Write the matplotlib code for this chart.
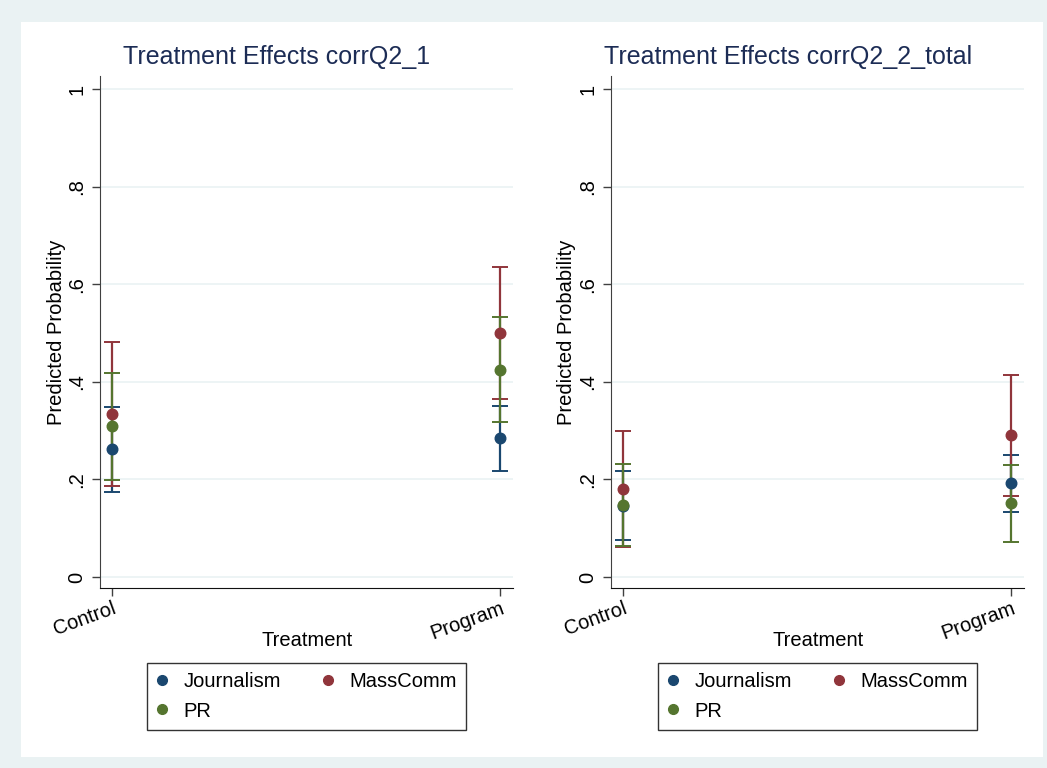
import matplotlib
matplotlib.use("Agg")
import matplotlib.pyplot as plt
from matplotlib.lines import Line2D
from matplotlib.patches import Rectangle

plt.rcParams['font.family'] = ['Liberation Sans', 'DejaVu Sans']

# Treatment groups on the x axis
treatments = ["Control", "Program"]
groups = ["Journalism", "MassComm", "PR"]

# Predicted probabilities and 95% CI bounds, outcome corrQ2_1
q1_journalism = [0.262, 0.284]
q1_journalism_lo = [0.175, 0.218]
q1_journalism_hi = [0.349, 0.351]
q1_masscomm = [0.334, 0.500]
q1_masscomm_lo = [0.187, 0.364]
q1_masscomm_hi = [0.481, 0.636]
q1_pr = [0.309, 0.425]
q1_pr_lo = [0.199, 0.317]
q1_pr_hi = [0.419, 0.533]

# Predicted probabilities and 95% CI bounds, outcome corrQ2_2_total
q2_journalism = [0.146, 0.192]
q2_journalism_lo = [0.076, 0.133]
q2_journalism_hi = [0.217, 0.250]
q2_masscomm = [0.180, 0.290]
q2_masscomm_lo = [0.061, 0.166]
q2_masscomm_hi = [0.300, 0.413]
q2_pr = [0.148, 0.151]
q2_pr_lo = [0.064, 0.072]
q2_pr_hi = [0.232, 0.229]

yticks = [0, 0.2, 0.4, 0.6, 0.8, 1]
ytick_labels = ["0", ".2", ".4", ".6", ".8", "1"]

titles = ["Treatment Effects corrQ2_1", "Treatment Effects corrQ2_2_total"]

colors = {"Journalism": "#1A476F", "MassComm": "#90353B", "PR": "#55752F"}

panels = [
    {
        "Journalism": (q1_journalism, q1_journalism_lo, q1_journalism_hi),
        "MassComm": (q1_masscomm, q1_masscomm_lo, q1_masscomm_hi),
        "PR": (q1_pr, q1_pr_lo, q1_pr_hi),
    },
    {
        "Journalism": (q2_journalism, q2_journalism_lo, q2_journalism_hi),
        "MassComm": (q2_masscomm, q2_masscomm_lo, q2_masscomm_hi),
        "PR": (q2_pr, q2_pr_lo, q2_pr_hi),
    },
]

W, H = 1047, 768
fig = plt.figure(figsize=(W / 100, H / 100), dpi=100)
fig.patch.set_facecolor("#EAF2F3")
fig.patches.append(Rectangle((21 / W, 1 - 757 / H), (1043 - 21) / W, (757 - 22) / H,
                             transform=fig.transFigure, facecolor="white",
                             edgecolor="none", zorder=-5))

title_color = "#1C2C55"
grid_color = "#EAF2F3"
axis_color = "#404040"

offsets = [0, 511]
for i, data in enumerate(panels):
    dx = offsets[i]
    left = (100 + dx) / W
    ax = fig.add_axes([left, 1 - 588 / H, 413 / W, 512 / H], zorder=2)
    ax.patch.set_alpha(0)
    x = list(range(len(treatments)))

    # confidence intervals first, then the point estimates
    for g in groups:
        est, lo, hi = data[g]
        err = [[e - l for e, l in zip(est, lo)], [h - e for e, h in zip(est, hi)]]
        ax.errorbar(x, est, yerr=err, fmt="none", ecolor=colors[g],
                    elinewidth=1.6, capsize=5.5, capthick=1.4, zorder=3)
    for g in groups:
        est = data[g][0]
        ax.plot(x, est, linestyle="none", marker="o", markersize=7.6,
                color=colors[g], zorder=4)

    ax.set_xlim(-0.032, 1.033)
    ax.set_ylim(-0.0225, 1.0266)
    ax.set_yticks(yticks)
    ax.set_yticklabels(ytick_labels, rotation=90, va="center", fontsize=14.5)
    ax.set_xticks(x)
    ax.set_xticklabels(treatments, rotation=20, ha="right", va="top",
                       rotation_mode="anchor", fontsize=14.5)
    ax.yaxis.grid(True, color=grid_color, linewidth=1.2)
    ax.set_axisbelow(True)
    for s in ("top", "right"):
        ax.spines[s].set_visible(False)
    ax.spines["left"].set_color(axis_color)
    ax.spines["bottom"].set_color("#111111")
    ax.tick_params(axis="y", length=6, width=1, color=axis_color, pad=4)
    ax.tick_params(axis="x", length=6, width=1, color=axis_color, pad=2)

    fig.text((277 + dx) / W, 1 - 57 / H, titles[i], ha="center", va="center",
             fontsize=18, color=title_color)
    fig.text((56 + dx) / W, 1 - 332 / H, "Predicted Probability", rotation=90,
             ha="center", va="center", fontsize=14.5)
    fig.text((307 + dx) / W, 1 - 640 / H, "Treatment", ha="center", va="center",
             fontsize=14.5)

    handles = [Line2D([], [], linestyle="none", marker="o", markersize=7,
                      color=colors[g]) for g in ["Journalism", "PR", "MassComm"]]
    leg = fig.legend(handles, ["Journalism", "PR", "MassComm"], ncol=2,
                     loc="center", bbox_to_anchor=((306.5 + dx) / W, 1 - 696.5 / H),
                     fontsize=14.5, frameon=True, fancybox=False, edgecolor="black",
                     handletextpad=0.75, columnspacing=2.05, labelspacing=0.5,
                     borderpad=0.45, handlelength=0.6)
    leg.get_frame().set_linewidth(1.0)

fig.savefig("out.png", dpi=100, facecolor=fig.get_facecolor())
